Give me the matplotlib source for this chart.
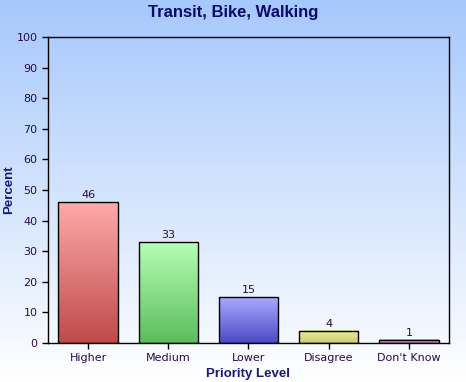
import numpy as np
import matplotlib
matplotlib.use('Agg')
import matplotlib.pyplot as plt
from matplotlib.colors import LinearSegmentedColormap

# data
categories = ['Higher', 'Medium', 'Lower', 'Disagree', "Don't Know"]
values = [46, 33, 15, 4, 1]
top_colors = ['#ffaaaa', '#b4ffb4', '#aaaaff', '#ececa4', '#f0a0f0']
bottom_colors = ['#bf4a4a', '#5cbc5c', '#4a4ac4', '#cccc70', '#d070d0']

fig = plt.figure(figsize=(4.66, 3.82), dpi=100)

# background gradient for whole figure
bg = fig.add_axes([0, 0, 1, 1], zorder=-10)
grad = np.linspace(0, 1, 256).reshape(-1, 1)
bg_cmap = LinearSegmentedColormap.from_list('bg', ['#ffffff', '#a6c8fc'])
bg.imshow(grad, aspect='auto', cmap=bg_cmap, origin='lower', extent=[0, 1, 0, 1])
bg.axis('off')

ax = fig.add_axes([48/466, 1 - 343/382, 401/466, 306/382])
ax.patch.set_alpha(0)

x = np.arange(len(categories))
w = 0.74
for i, v in enumerate(values):
    cmap = LinearSegmentedColormap.from_list('b%d' % i, [bottom_colors[i], top_colors[i]])
    ax.imshow(grad, aspect='auto', cmap=cmap, origin='lower',
              extent=[x[i] - w/2, x[i] + w/2, 0, v], zorder=2)
ax.bar(x, values, width=w, facecolor='none', edgecolor='black', linewidth=1, zorder=3)
for i, v in enumerate(values):
    ax.text(x[i], v + 0.6, str(v), ha='center', va='bottom', fontsize=8, color='#2a0a3a')

ax.set_xlim(-0.5, 4.5)
ax.set_ylim(0, 100)
ax.set_yticks(range(0, 101, 10))
ax.set_xticks(x)
ax.set_xticklabels(categories)
ax.tick_params(axis='both', direction='out', length=4, labelsize=8, labelcolor='#2a0a4a', width=1)
for s in ax.spines.values():
    s.set_color('black')
    s.set_linewidth(1)

ax.set_xlabel('Priority Level', fontsize=9.5, fontweight='bold', color='#1a1a7a',
              family='Liberation Sans', labelpad=3)
fig.text(9/466, 1 - 190/382, 'Percent', rotation=90, ha='center', va='center',
         fontsize=9.5, fontweight='bold', color='#1a1a7a', family='Liberation Sans')
fig.text(0.5, 1 - 12/382, 'Transit, Bike, Walking', ha='center', va='center',
         fontsize=12, fontweight='bold', color='#0a0a6a', family='Liberation Sans')

fig.savefig('out.png', dpi=100)
